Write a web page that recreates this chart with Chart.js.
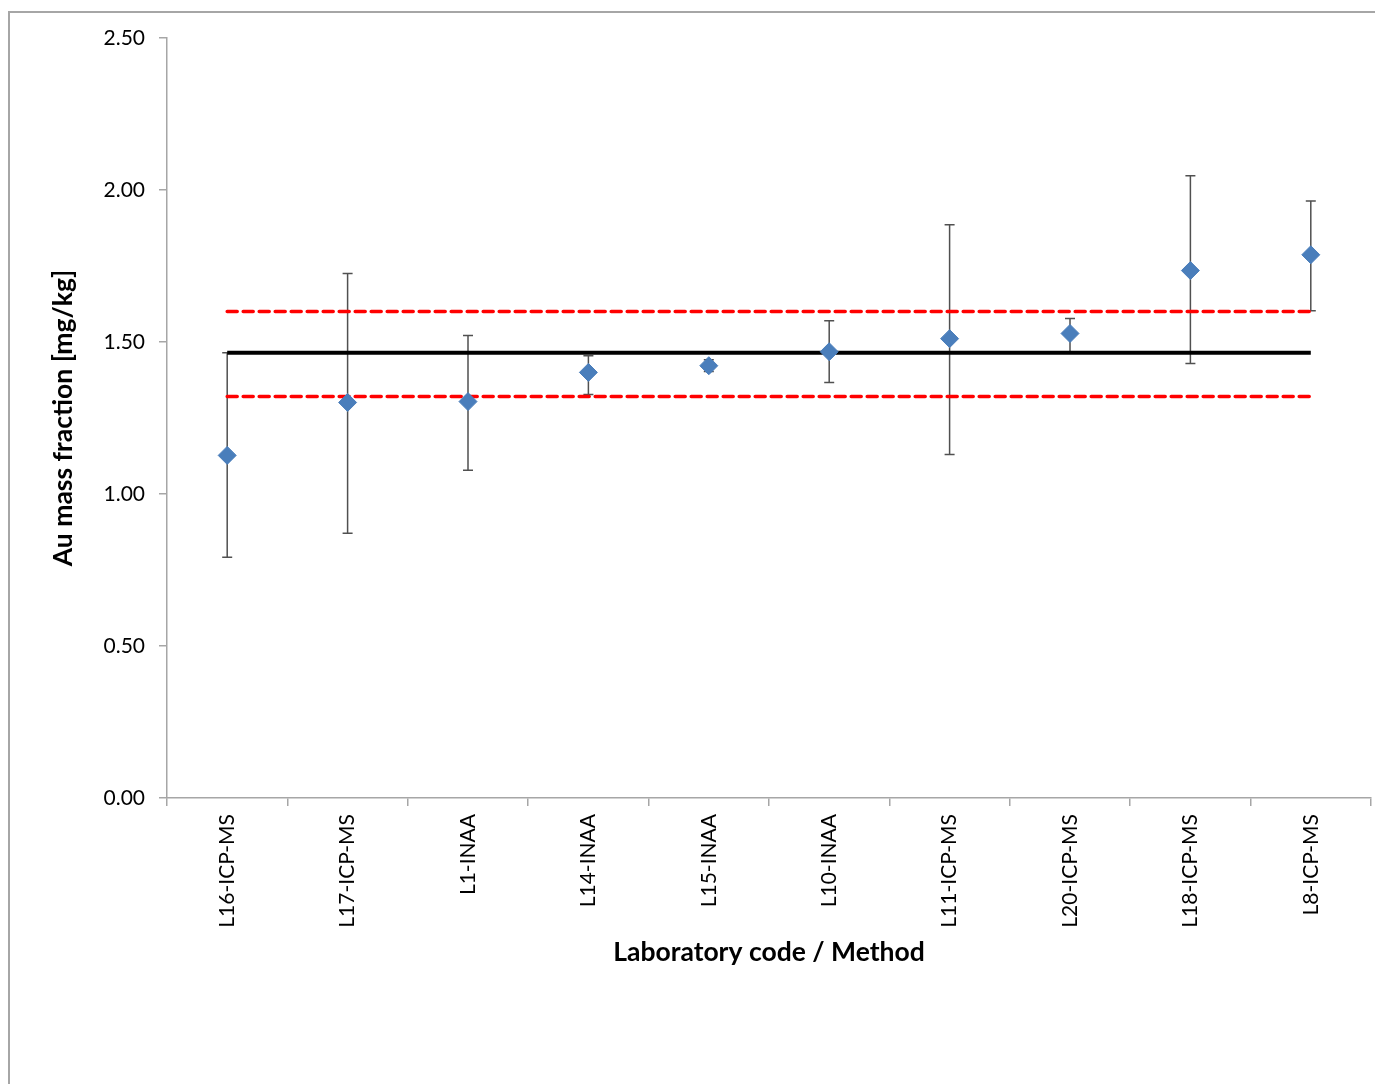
<!DOCTYPE html>
<html>
<head>
<meta charset="utf-8">
<script src="https://cdn.jsdelivr.net/npm/chart.js@4"></script>
<style>
  html, body { margin: 0; padding: 0; background: #fff; overflow: hidden; }
  #wrap { position: relative; width: 1375px; height: 1084px; overflow: hidden; }
  #frame { position: absolute; left: 8px; top: 11px; right: -10px; bottom: -10px;
           border-top: 2px solid #a6a6a6; border-left: 2px solid #a6a6a6; }
  canvas { position: absolute; left: 0; top: 0; }
</style>
</head>
<body>
<div id="wrap">
  <div id="frame"></div>
  <canvas id="chart" width="1381" height="1084"></canvas>
</div>
<script>
// lab results, Au mass fraction [mg/kg]
const labs   = ['L16-ICP-MS','L17-ICP-MS','L1-INAA','L14-INAA','L15-INAA','L10-INAA','L11-ICP-MS','L20-ICP-MS','L18-ICP-MS','L8-ICP-MS'];
const values = [1.127, 1.301, 1.304, 1.400, 1.422, 1.468, 1.511, 1.528, 1.735, 1.787];
const errLow = [0.792, 0.871, 1.078, 1.327, 1.403, 1.367, 1.130, 1.468, 1.429, 1.603];
const errHigh= [1.465, 1.725, 1.521, 1.455, 1.442, 1.570, 1.886, 1.577, 2.047, 1.964];

// assigned value and tolerance limits
const assigned = 1.465;
const upperLim = 1.600;
const lowerLim = 1.321;

const yTicks = [0, 0.5, 1.0, 1.5, 2.0, 2.5];

const FONT = 'Lato, "Liberation Sans", sans-serif';

const errorBars = {
  id: 'errorBars',
  beforeDatasetsDraw(chart) {
    const { ctx, scales: { x, y } } = chart;
    ctx.save();
    ctx.strokeStyle = '#505050';
    ctx.lineWidth = 1.5;
    labs.forEach((lab, i) => {
      const px = x.getPixelForValue(i);
      const yl = y.getPixelForValue(errLow[i]);
      const yh = y.getPixelForValue(errHigh[i]);
      ctx.beginPath();
      ctx.moveTo(px, yl); ctx.lineTo(px, yh);
      ctx.moveTo(px - 5, yl); ctx.lineTo(px + 5, yl);
      ctx.moveTo(px - 5, yh); ctx.lineTo(px + 5, yh);
      ctx.stroke();
    });
    ctx.restore();
  }
};

const flat = v => labs.map(() => v);

new Chart(document.getElementById('chart'), {
  type: 'line',
  data: {
    labels: labs,
    datasets: [
      { data: flat(upperLim), borderColor: '#ff0000', borderWidth: 3.5, borderDash: [10, 6],
        borderCapStyle: 'round', pointRadius: 0, order: 3 },
      { data: flat(lowerLim), borderColor: '#ff0000', borderWidth: 3.5, borderDash: [10, 6],
        borderCapStyle: 'round', pointRadius: 0, order: 3 },
      { data: flat(assigned), borderColor: '#000000', borderWidth: 4, pointRadius: 0, order: 2 },
      { data: values, showLine: false, pointStyle: 'rectRot', pointRadius: 9,
        pointBackgroundColor: '#4a7ebb', pointBorderColor: '#4a7ebb', pointBorderWidth: 1, order: 1 },
    ]
  },
  options: {
    responsive: false,
    animation: false,
    layout: { padding: { left: 0, right: 0, top: 38, bottom: 0 } },
    plugins: { legend: { display: false }, tooltip: { enabled: false } },
    scales: {
      x: {
        offset: true,
        grid: { offset: true, drawOnChartArea: false, tickLength: 8, color: '#a6a6a6', lineWidth: 1.5 },
        border: { color: '#a6a6a6', width: 1.5 },
        ticks: { minRotation: 90, maxRotation: 90, padding: 8, color: '#000',
                 font: { family: FONT, size: 21 } },
        title: { display: true, text: 'Laboratory code / Method', color: '#000',
                 font: { family: FONT, size: 26.5, weight: 'bold' }, padding: { top: 0, bottom: 116 } },
        afterFit(scale) { scale.height = 286; scale.paddingLeft = 0; scale.paddingRight = 0; }
      },
      y: {
        min: 0, max: 2.5,
        afterBuildTicks(scale) { scale.ticks = yTicks.map(v => ({ value: v })); },
        grid: { drawOnChartArea: false, tickLength: 8, color: '#a6a6a6', lineWidth: 1.5 },
        border: { color: '#a6a6a6', width: 1.5 },
        ticks: { padding: 14, color: '#000', font: { family: FONT, size: 21 },
                 callback: v => v.toFixed(2) },
        title: { display: true, text: 'Au mass fraction [mg/kg]', color: '#000',
                 font: { family: FONT, size: 26.5, weight: 'bold' }, padding: { top: 48, bottom: 0 } },
        afterFit(scale) { scale.width = 167; scale.paddingTop = 0; scale.paddingBottom = 0; }
      }
    }
  },
  plugins: [errorBars]
});
</script>
</body>
</html>
